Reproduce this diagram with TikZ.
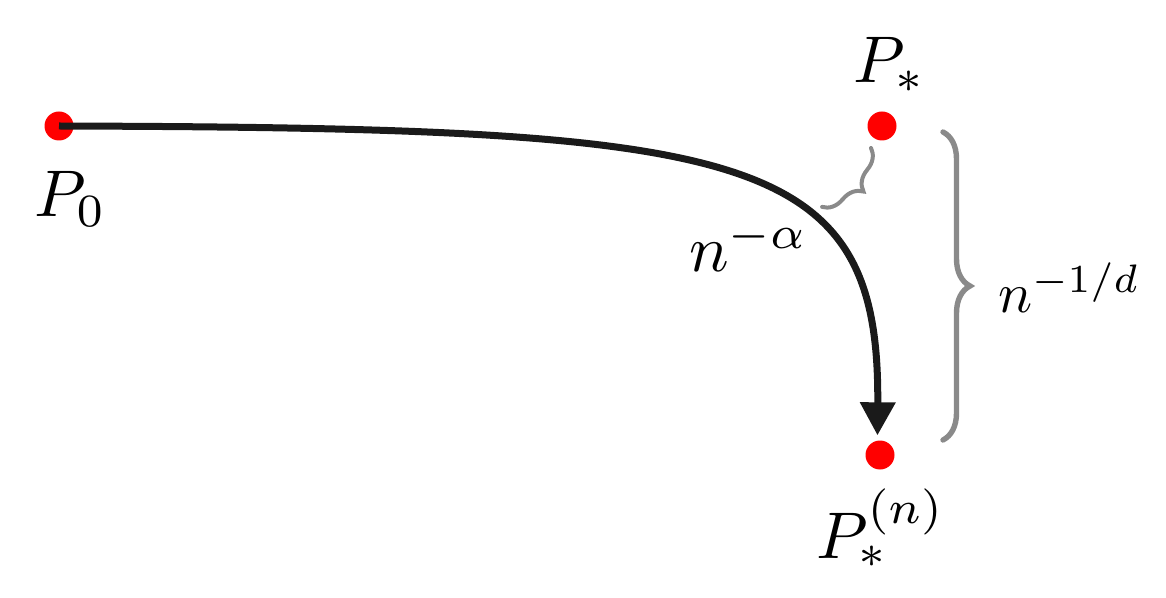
\documentclass[tikz,border=0pt]{standalone}
\usepackage{xcolor}
\usepackage{tikz}
\usetikzlibrary{arrows.meta, decorations.pathreplacing}
\definecolor{dotred}{HTML}{FF0000}
\definecolor{bracegray}{HTML}{8A8A8A}
\definecolor{pathblack}{HTML}{1A1A1A}

\begin{document}
\begin{tikzpicture}[
    x=0.5pt, y=-0.5pt,
    dot/.style={circle, fill=dotred, inner sep=0pt, minimum size=14.5pt},
    lbl/.style={anchor=base west, inner sep=0pt, scale=3.3},
    gbrace/.style={draw=bracegray, line cap=round, decorate},
]
\useasboundingbox (0,0) rectangle (1166,598);

% Points
\node[dot] (p0) at (59,126) {};
\node[dot] (pstar) at (882,126) {};
\node[dot] (pn) at (880,455) {};

% Flow
\draw[pathblack, line width=3.5pt, -{Triangle[length=16.5pt, width=17pt]}, shorten >=2.5pt]
    (p0.center) .. controls (750,128) and (880,150) .. (pn.100);

% Braces
\coordinate (sb1) at (871,148);
\coordinate (sb2) at (822,207);
\draw[gbrace, line width=2pt, decoration={brace, amplitude=11pt}] (sb1) -- (sb2);
\coordinate (bb1) at (943,132);
\coordinate (bb2) at (943,440);
\draw[gbrace, line width=2.7pt, decoration={brace, amplitude=13.5pt}] (bb1) -- (bb2);

% Labels
\node[lbl] (l0) at (33,217) {$P_0$};
\node[lbl] (lstar) at (852,83) {$P_*$};
\node[lbl] (ln) at (815,558) {$P_*^{(n)}$};
\node[lbl] (lalpha) at (688,272) {$n^{-\alpha}$};
\node[lbl, scale=0.86] (ld) at (997,313) {$n^{-1/d}$};

\end{tikzpicture}
\end{document}
